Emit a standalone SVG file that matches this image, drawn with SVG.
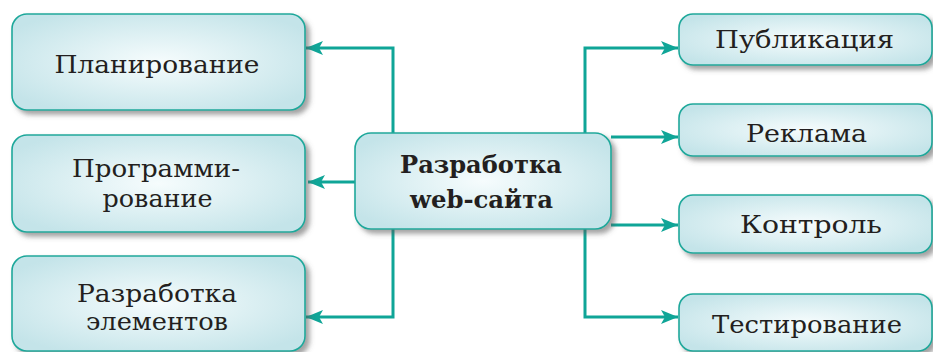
<svg xmlns="http://www.w3.org/2000/svg" width="933" height="352" viewBox="0 0 933 352">
<style>
.box{fill:url(#g);stroke:#1fa89b;stroke-width:1.6;filter:url(#sh)}
.t{font-family:"DejaVu Serif","Liberation Serif",serif;font-size:25px;fill:#231f20;text-anchor:middle}
.b{font-weight:bold}
.c{fill:none;stroke:#0fa597;stroke-width:3;marker-end:url(#ah)}
</style>
<defs>
<radialGradient id="g" cx="50%" cy="50%" r="60%">
<stop offset="0" stop-color="#f6fcfd"/>
<stop offset="1" stop-color="#c4e4e9"/>
</radialGradient>
<filter id="sh" x="-10%" y="-20%" width="125%" height="150%">
<feDropShadow dx="4" dy="4" stdDeviation="2.5" flood-color="#555" flood-opacity="0.55"/>
</filter>
<marker id="ah" markerUnits="userSpaceOnUse" markerWidth="18" markerHeight="16" refX="17" refY="8" orient="auto">
<path d="M0,1 L17,8 L0,15 L4,8 Z" fill="#0fa597"/>
</marker>
</defs>
<g id="connectors">
<path class="c" d="M393,133 V48 H306"/>
<path class="c" d="M355,182 H308"/>
<path class="c" d="M393,229 V317 H306"/>
<path class="c" d="M585,133 V48 H678"/>
<path class="c" d="M611,137 H678"/>
<path class="c" d="M611,225 H678"/>
<path class="c" d="M585,229 V317 H678"/>
</g>
<g id="n-plan"><rect class="box" x="12" y="14" width="293" height="96" rx="15"/>
<text class="t" x="157" y="73" textLength="205" lengthAdjust="spacingAndGlyphs">Планирование</text></g>
<g id="n-prog"><rect class="box" x="12" y="135" width="293" height="97" rx="15"/>
<text class="t" x="156" y="177" textLength="168" lengthAdjust="spacingAndGlyphs">Программи-</text>
<text class="t" x="157.5" y="207" textLength="110" lengthAdjust="spacingAndGlyphs">рование</text></g>
<g id="n-elem"><rect class="box" x="12" y="256" width="293" height="95" rx="15"/>
<text class="t" x="157" y="302" textLength="160" lengthAdjust="spacingAndGlyphs">Разработка</text>
<text class="t" x="157" y="330" textLength="142" lengthAdjust="spacingAndGlyphs">элементов</text></g>
<g id="n-center"><rect class="box" x="355" y="133" width="256" height="96" rx="16"/>
<text class="t b" x="481" y="173" textLength="162" lengthAdjust="spacingAndGlyphs">Разработка</text>
<text class="t b" x="481.5" y="208" textLength="143" lengthAdjust="spacingAndGlyphs">web-сайта</text></g>
<g id="n-pub"><rect class="box" x="679" y="14" width="253" height="51" rx="14"/>
<text class="t" x="804.5" y="48" textLength="179" lengthAdjust="spacingAndGlyphs">Публикация</text></g>
<g id="n-rek"><rect class="box" x="679" y="104" width="253" height="52" rx="14"/>
<text class="t" x="806.5" y="142" textLength="121" lengthAdjust="spacingAndGlyphs">Реклама</text></g>
<g id="n-kon"><rect class="box" x="679" y="195" width="253" height="58" rx="14"/>
<text class="t" x="811" y="233" textLength="142" lengthAdjust="spacingAndGlyphs">Контроль</text></g>
<g id="n-test"><rect class="box" x="679" y="294" width="253" height="57" rx="14"/>
<text class="t" x="807" y="333" textLength="190" lengthAdjust="spacingAndGlyphs">Тестирование</text></g>
</svg>
